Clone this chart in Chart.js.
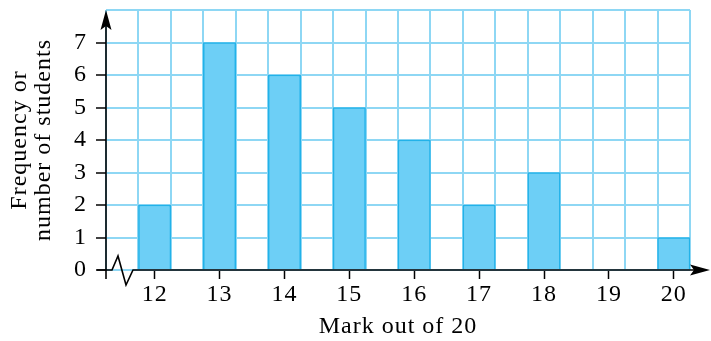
<!DOCTYPE html>
<html>
<head>
<meta charset="utf-8">
<script src="https://cdn.jsdelivr.net/npm/chart.js@4"></script>
<style>
  body { margin: 0; background: #fff; }
  #wrap { width: 711px; height: 341px; }
</style>
</head>
<body>
<div id="wrap"><canvas id="markChart"></canvas></div>
<script>
// 資料
const marks = [12, 13, 14, 15, 16, 17, 18, 19, 20];
const frequency = [2, 7, 6, 5, 4, 2, 3, 0, 1];
const yTicks = [0, 1, 2, 3, 4, 5, 6, 7];

const FONT = 'Liberation Serif';
const gridBlue = '#8ed7f4';

// 字距稍寬，接近原圖
const spacing = {
  id: 'spacing',
  beforeLayout(chart) { chart.ctx.letterSpacing = '1px'; },
  beforeDraw(chart) { chart.ctx.letterSpacing = '1px'; }
};

// 軸線、箭頭與斷軸符號
const axisArrows = {
  id: 'axisArrows',
  afterDraw(chart) {
    const { ctx, chartArea: a } = chart;
    const L = a.left, B = a.bottom;
    ctx.save();
    ctx.strokeStyle = '#000';
    ctx.fillStyle = '#000';
    ctx.lineWidth = 1.6;
    // y axis
    ctx.beginPath();
    ctx.moveTo(L, B + 9);
    ctx.lineTo(L, a.top + 14);
    ctx.stroke();
    ctx.beginPath();
    ctx.moveTo(L, a.top);
    ctx.lineTo(L + 5.5, a.top + 20);
    ctx.lineTo(L, a.top + 16);
    ctx.lineTo(L - 5.5, a.top + 20);
    ctx.closePath();
    ctx.fill();
    // x axis with break
    ctx.beginPath();
    ctx.moveTo(L - 9, B);
    ctx.lineTo(L + 6, B);
    ctx.lineTo(L + 12, B - 14);
    ctx.lineTo(L + 20, B + 15);
    ctx.lineTo(L + 27, B);
    ctx.lineTo(chart.width - 8, B);
    ctx.stroke();
    const R = chart.width - 1;
    ctx.beginPath();
    ctx.moveTo(R, B);
    ctx.lineTo(R - 20, B - 5.5);
    ctx.lineTo(R - 16, B);
    ctx.lineTo(R - 20, B + 5.5);
    ctx.closePath();
    ctx.fill();
    ctx.restore();
  }
};

document.addEventListener('DOMContentLoaded', () => {
  const ctx = document.getElementById('markChart').getContext('2d');

  new Chart(ctx, {
    type: 'bar',
    data: {
      datasets: [{
        label: 'Frequency',
        data: marks.map((m, i) => ({ x: m, y: frequency[i] })),
        backgroundColor: '#6dcff6',
        borderColor: '#22b2e9',
        borderWidth: 1.5,
        barPercentage: 1,
        categoryPercentage: 1,
        xAxisID: 'x',
        yAxisID: 'y'
      }]
    },
    options: {
      responsive: true,
      maintainAspectRatio: false,
      animation: false,
      layout: { padding: { top: 10, right: 21, left: 0, bottom: 0 } },
      plugins: { legend: { display: false }, tooltip: { enabled: false } },
      scales: {
        x: {
          type: 'linear',
          position: 'bottom',
          offset: false,
          min: 11.25,
          max: 20.25,
          afterBuildTicks: s => {
            const t = [];
            for (let v = 11.25; v <= 20.26; v += 0.5) t.push({ value: v });
            s.ticks = t;
          },
          afterFit: s => { s.height = 0; s.paddingLeft = 0; s.paddingRight = 0; },
          ticks: { display: false },
          grid: { color: gridBlue, lineWidth: 2, drawTicks: false, offset: false },
          border: { display: false }
        },
        x2: {
          type: 'linear',
          position: 'bottom',
          offset: false,
          min: 11.25,
          max: 20.25,
          afterBuildTicks: s => { s.ticks = marks.map(v => ({ value: v })); },
          afterFit: s => { s.height = 71; s.paddingLeft = 0; s.paddingRight = 0; },
          ticks: {
            color: '#000',
            font: { family: FONT, size: 24 },
            padding: 1,
            maxRotation: 0,
            autoSkip: false
          },
          grid: { drawOnChartArea: false, offset: false, tickLength: 9, tickColor: '#000', tickWidth: 1.5 },
          border: { display: false },
          title: {
            display: true,
            text: 'Mark out of 20',
            color: '#000',
            font: { family: FONT, size: 24 },
            padding: { top: 0, bottom: 0 }
          }
        },
        y: {
          min: 0,
          max: 8,
          afterBuildTicks: s => {
            s.ticks = yTicks.concat([8]).map(v => ({ value: v }));
          },
          afterFit: s => { s.width = 106; s.paddingTop = 0; s.paddingBottom = 0; },
          ticks: {
            color: '#000',
            font: { family: FONT, size: 24 },
            padding: 9,
            callback: v => (yTicks.includes(v) ? String(v) : '')
          },
          grid: {
            color: gridBlue,
            lineWidth: 2,
            tickLength: 10,
            tickWidth: 1.5,
            tickColor: c => (c.tick && c.tick.value === 8 ? 'rgba(0,0,0,0)' : '#000')
          },
          border: { display: false },
          title: {
            display: true,
            text: ['Frequency or', 'number of students'],
            color: '#000',
            font: { family: FONT, size: 24, lineHeight: 1.0 },
            padding: { top: 8, bottom: 0 }
          }
        }
      }
    },
    plugins: [spacing, axisArrows]
  });
});
</script>
</body>
</html>
